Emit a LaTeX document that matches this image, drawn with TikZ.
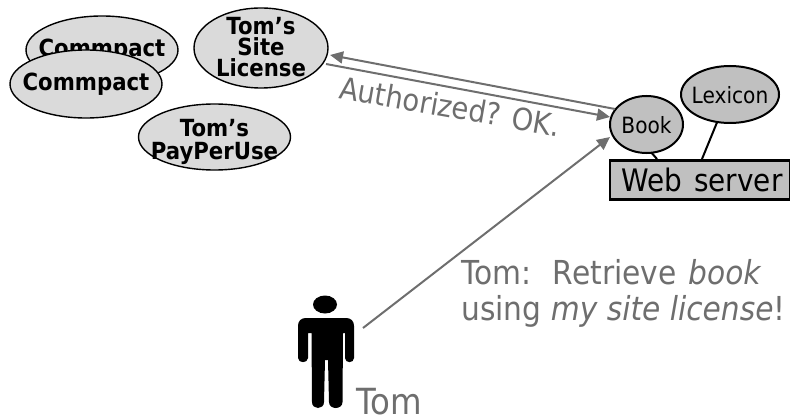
\documentclass[tikz,border=0pt]{standalone}
\usepackage{fontspec}
\setmainfont{DejaVu Sans}[FakeStretch=0.9]
\usetikzlibrary{shapes.geometric,arrows.meta}
\definecolor{txtgray}{HTML}{6E6E6E}
\definecolor{lightfill}{HTML}{DADADA}
\definecolor{midfill}{HTML}{C0C0C0}
\tikzset{
  x=1pt,y=-1pt,
  policy/.style={ellipse,draw=black,line width=1.4pt,fill=lightfill,inner sep=0pt,outer sep=0pt},
  policytxt/.style={inner sep=0pt,align=center,font=\bfseries\fontsize{23.6}{21}\selectfont},
  resource/.style={ellipse,draw=black,line width=2pt,fill=midfill,inner sep=0pt,outer sep=0pt},
  resourcetxt/.style={inner sep=0pt,font=\fontsize{22.4}{24}\selectfont},
  link/.style={draw=black,line width=2pt},
  msg/.style={draw=txtgray,line width=2pt,-{Triangle[length=13pt,width=12pt]}},
  graytxt/.style={text=txtgray,inner sep=0pt,anchor=base west,font=\fontsize{33}{33}\selectfont}
}
\begin{document}
\begin{tikzpicture}
\useasboundingbox (0,0) rectangle (790,417);
\node[policy,minimum width=152pt,minimum height=68pt] (c1) at (102,50) {};
\node[policytxt] (c1t) at (102,50) {Commpact};
\node[policy,minimum width=152pt,minimum height=68pt] (c2) at (86,84) {};
\node[policytxt] (c2t) at (86,84) {Commpact};
\node[policy,minimum width=134pt,minimum height=80pt] (site) at (261,48) {};
\node[policytxt] (sitet) at (261,47) {Tom’s\\Site\\License};
\node[policy,minimum width=152pt,minimum height=66pt] (ppu) at (214.5,137) {};
\node[policytxt,font=\bfseries\fontsize{23.6}{23}\selectfont] (ppud) at (214.5,142) {Tom’s\\PayPerUse};
\node[draw=black,line width=2.5pt,fill=midfill,minimum width=180pt,minimum height=39pt,inner sep=0pt,outer sep=0pt,font=\fontsize{31}{34}\selectfont] (web) at (700,180) {\hspace{4pt}Web\hspace{3pt} server};
\node[resource,minimum width=73pt,minimum height=57pt] (book) at (646.5,124.5) {};
\node[resourcetxt] (bookt) at (646.5,125) {Book};
\node[resource,minimum width=98pt,minimum height=57pt] (lex) at (730,94.5) {};
\node[resourcetxt] (lext) at (730,95) {Lexicon};
\coordinate (bw) at (657,159);
\coordinate (lw) at (702,159);
\draw[link] (book.-80) -- (bw);
\draw[link] (lex.-115) -- (lw);
\coordinate (siteIn) at (330,55);
\coordinate (siteOut) at (326,64);
\coordinate (bookOut) at (615,109);
\coordinate (bookIn) at (610,117);
\coordinate (bookIn2) at (610,137);
\coordinate (tomOut) at (363,328);
\draw[msg] (bookOut) -- (siteIn);
\draw[msg] (siteOut) -- (bookIn);
\draw[msg] (tomOut) -- (bookIn2);
\node[graytxt,rotate=-10,font=\fontsize{30.5}{30}\selectfont] (auth) at (338,98) {Authorized? OK.};
\node[graytxt] (req1) at (461,284) {Tom:\hspace{9pt} Retrieve\hspace{2pt} \textit{book}};
\node[graytxt] (req2) at (461,320) {using \textit{my site license}!};
\node[graytxt,font=\fontsize{36}{36}\selectfont] (tomtext) at (356,414) {Tom};
% person
\fill[black] (325,304.5) ellipse [x radius=12,y radius=9];
\fill[black]
 (306,318) -- (346,318) .. controls (351,318) and (354,321) .. (354,326)
 -- (354,358) .. controls (354,363.5) and (345,363.5) .. (345,358)
 -- (345,333) -- (343,333) -- (342.5,402) .. controls (342.5,410) and (329,410) .. (329,402)
 -- (328,360) -- (325,360) -- (324,402) .. controls (324,410) and (312,410) .. (312,402)
 -- (311.5,333) -- (308,333) -- (308,358) .. controls (308,363.5) and (298,363.5) .. (298,358)
 -- (298,326) .. controls (298,321) and (301,318) .. (306,318) -- cycle;
\end{tikzpicture}
\end{document}
